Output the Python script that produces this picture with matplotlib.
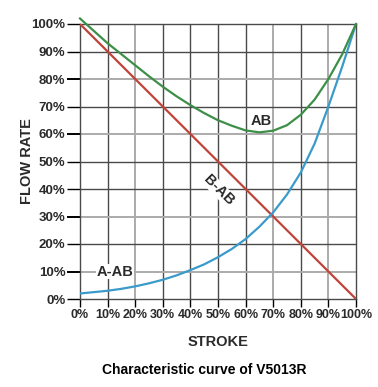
"""Characteristic curve of V5013R."""
import matplotlib
matplotlib.use("Agg")
import matplotlib.pyplot as plt

plt.rcParams["font.family"] = ["Liberation Sans", "DejaVu Sans"]

# stroke (%) and flow rate (%)
stroke = [0, 5, 10, 15, 20, 25, 30, 35, 40, 45, 50,
          55, 60, 65, 70, 75, 80, 85, 90, 95, 100]
flow_ab = [102, 97.5, 93, 89, 85, 81, 77.2, 73.7, 70.5, 67.6, 65,
           63, 61.3, 60.6, 61.2, 63.2, 67, 72.5, 80, 89, 100]
flow_a_ab = [2, 2.5, 3, 3.7, 4.6, 5.7, 7, 8.6, 10.5, 12.6, 15.2,
             18.2, 21.8, 26.3, 31.5, 38, 46, 56.5, 70, 84.5, 100]
flow_b_ab = [100, 95, 90, 85, 80, 75, 70, 65, 60, 55, 50,
             45, 40, 35, 30, 25, 20, 15, 10, 5, 0]

ticks = list(range(0, 101, 10))
tick_labels = ["%d%%" % t for t in ticks]
light_x = [20, 70, 90]
light_y = [10, 30, 60, 80]

DARK = "#4a4a4a"
LIGHT = "#ababab"
TXT = "#2a2a2a"

fig = plt.figure(figsize=(3.78, 3.87), dpi=100)
ax = fig.add_axes([80 / 378, 1 - 299 / 387, 276 / 378, 275 / 387])

ax.set_xlim(0, 100)
ax.set_ylim(0, 100)
ax.set_xticks(ticks)
ax.set_yticks(ticks)
ax.set_xticklabels(tick_labels, fontsize=9, fontweight="bold", color=TXT)
ax.set_yticklabels(tick_labels, fontsize=9.5, fontweight="bold", color=TXT)
ax.tick_params(axis="y", length=9.5, width=1.0, pad=1)
ax.tick_params(axis="x", length=6, width=1.0, pad=1.5)

for t in ticks:
    c = LIGHT if t in light_x else DARK
    lw = 1.4 if t in light_x else 1.0
    if 0 < t < 100:
        ax.axvline(t, color=c, lw=lw, zorder=1)
for t in ticks:
    c = LIGHT if t in light_y else DARK
    lw = 1.4 if t in light_y else 1.0
    if 0 < t < 100:
        ax.axhline(t, color=c, lw=lw, zorder=1)

for tk, t in zip(ax.xaxis.get_major_ticks(), ticks):
    tk.tick1line.set_color(LIGHT if t in light_x else DARK)
for tk, t in zip(ax.yaxis.get_major_ticks(), ticks):
    tk.tick1line.set_color(LIGHT if t in light_y else DARK)
    tk.tick1line.set_markeredgewidth(1.4 if t in light_y else 1.0)

for s in ax.spines.values():
    s.set_color(DARK)
    s.set_linewidth(1.0)

ax.plot(stroke, flow_b_ab, color="#c0433a", lw=1.6, zorder=3)
ax.plot(stroke, flow_a_ab, color="#3a9bcb", lw=1.6, zorder=3)
ax.plot(stroke, flow_ab, color="#3d8f48", lw=1.6, zorder=3, clip_on=False)

ax.text(65.5, 64.7, "AB", fontsize=10.5, fontweight="bold", color=TXT,
        ha="center", va="center", zorder=4)
ax.text(50.4, 39.6, "B-AB", fontsize=10.5, fontweight="bold", color=TXT,
        ha="center", va="center", rotation=-45, zorder=4,
        bbox=dict(facecolor="white", edgecolor="none", pad=0.2))
ax.text(12.7, 10, "A-AB", fontsize=10.5, fontweight="bold", color=TXT,
        ha="center", va="center", zorder=4,
        bbox=dict(facecolor="white", edgecolor="none", pad=0.5))

ax.set_xlabel("STROKE", fontsize=10.5, fontweight="bold", color=TXT,
              labelpad=10)
ax.set_ylabel("FLOW RATE", fontsize=10.5, fontweight="bold", color=TXT,
              labelpad=-2)
fig.text(204 / 378, 1 - 370 / 387, "Characteristic curve of V5013R",
         fontsize=10, fontweight="bold", color="black",
         ha="center", va="center")

fig.savefig("out.png", dpi=100)
